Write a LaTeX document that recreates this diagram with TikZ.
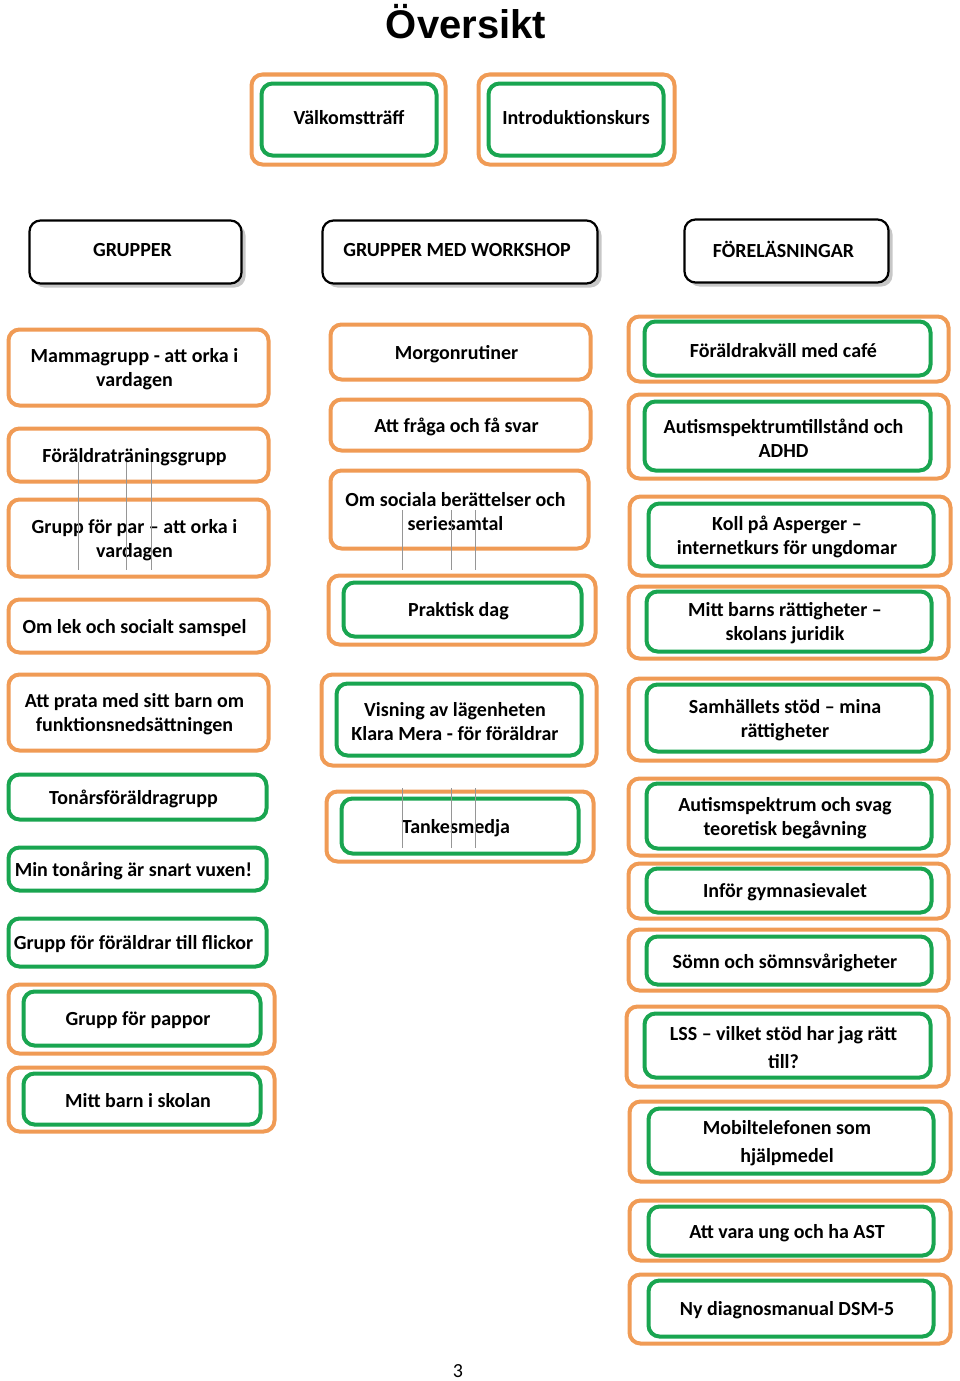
\documentclass[tikz,border=0pt]{standalone}
\usepackage{fontspec}
\setmainfont{Carlito}
\newfontfamily\titlefont{Liberation Sans}
\usetikzlibrary{shadows}
\definecolor{boxorange}{RGB}{240,155,85}
\definecolor{boxgreen}{RGB}{25,165,80}
\definecolor{gridgray}{RGB}{150,150,150}
\tikzset{
  base/.style={rounded corners=11pt, inner sep=0pt},
  obox/.style={base, draw=boxorange, line width=4pt},
  gbox/.style={base, draw=boxgreen, line width=4pt},
  hbox/.style={base, draw=black, line width=2.2pt, fill=white, drop shadow={shadow xshift=4pt, shadow yshift=-4pt, opacity=0.22, fill=black}},
  lbl/.style={align=center, inner sep=0pt, font=\fontsize{20}{24}\selectfont\bfseries, text=black},
  gline/.style={draw=gridgray, line width=0.8pt},
}
\def\tdx{0}
\def\tdy{-2}
\newcommand\bx[7]{%
  \node[#1, minimum width={(#5-#3-3)*1pt}, minimum height={(#6-#4-3)*1pt}] (#2) at ({(#3+#5)/2},{(#4+#6)/2}) {};
  \node[lbl] (#2-t) at ({(#3+#5)/2+\tdx},{(#4+#6)/2+\tdy}) {#7};}
\newcommand\bb[6]{%
  \node[#1, minimum width={(#5-#3-3)*1pt}, minimum height={(#6-#4-3)*1pt}] (#2) at ({(#3+#5)/2},{(#4+#6)/2}) {};}
\begin{document}
\begin{tikzpicture}[x=1pt,y=-1pt]
\useasboundingbox[fill=white] (0,0) rectangle (960,1381);
\node[font=\titlefont\bfseries\fontsize{40}{44}\selectfont] (title) at (466,22) {Översikt};
% top
\bb{obox}{valk-o}{250}{73}{447}{166}
\bx{gbox}{valk}{260}{82}{438}{157}{Välkomstträff}
\bb{obox}{intro-o}{477}{73}{676}{166}
\bx{gbox}{intro}{487}{82}{665}{157}{Introduktionskurs}
\def\tdx{-3}
% headers
\bx{hbox}{h1}{28}{219}{243}{285}{GRUPPER}
\bx{hbox}{h2}{321}{219}{599}{285}{GRUPPER MED WORKSHOP}
\bx{hbox}{h3}{683}{218}{890}{284}{FÖRELÄSNINGAR}
\def\tdx{-4}
\def\tdy{2}
% left column
\bx{obox}{l1}{7}{328}{270}{407}{Mammagrupp - att orka i\\vardagen}
\bx{obox}{l2}{7}{427}{270}{483}{Föräldraträningsgrupp}
\bx{obox}{l3}{7}{498}{270}{578}{Grupp för par – att orka i\\vardagen}
\bx{obox}{l4}{7}{598}{270}{654}{Om lek och socialt samspel}
\bx{obox}{l5}{7}{673}{270}{752}{Att prata med sitt barn om\\funktionsnedsättningen}
\bx{gbox}{l6}{7}{773}{268}{821}{Tonårsföräldragrupp}
\bx{gbox}{l7}{7}{846}{268}{892}{Min tonåring är snart vuxen!}
\bx{gbox}{l8}{7}{917}{268}{968}{Grupp för föräldrar till flickor}
\bb{obox}{l9-o}{7}{983}{276}{1055}
\bx{gbox}{l9}{22}{990}{262}{1047}{Grupp för pappor}
\bb{obox}{l10-o}{7}{1066}{276}{1133}
\bx{gbox}{l10}{22}{1072}{262}{1126}{Mitt barn i skolan}
% middle column
\bx{obox}{m1}{329}{323}{592}{381}{Morgonrutiner}
\bx{obox}{m2}{329}{398}{592}{452}{Att fråga och få svar}
\bx{obox}{m3}{329}{469}{590}{550}{Om sociala berättelser och\\seriesamtal}
\bb{obox}{m4-o}{327}{574}{597}{646}
\bx{gbox}{m4}{342}{581}{583}{638}{Praktisk dag}
\bb{obox}{m5-o}{320}{673}{598}{767}
\bx{gbox}{m5}{335}{682}{583}{757}{Visning av lägenheten\\Klara Mera - för föräldrar}
\bb{obox}{m6-o}{325}{790}{595}{863}
\bx{gbox}{m6}{340}{797}{580}{855}{Tankesmedja}
% right column
\bb{obox}{r1-o}{627}{315}{950}{383}
\bx{gbox}{r1}{643}{320}{932}{377}{Föräldrakväll med café}
\bb{obox}{r2-o}{627}{393}{950}{480}
\bx{gbox}{r2}{643}{400}{932}{472}{Autismspektrumtillstånd och\\ADHD}
\bb{obox}{r3-o}{628}{495}{952}{577}
\bx{gbox}{r3}{647}{502}{935}{568}{Koll på Asperger –\\internetkurs för ungdomar}
\bb{obox}{r4-o}{627}{585}{950}{660}
\bx{gbox}{r4}{645}{590}{933}{653}{Mitt barns rättigheter –\\skolans juridik}
\bb{obox}{r5-o}{627}{677}{950}{762}
\bx{gbox}{r5}{645}{683}{933}{753}{Samhällets stöd – mina\\rättigheter}
\bb{obox}{r6-o}{627}{777}{950}{857}
\bx{gbox}{r6}{645}{782}{933}{850}{Autismspektrum och svag\\teoretisk begåvning}
\bb{obox}{r7-o}{627}{862}{950}{920}
\bx{gbox}{r7}{645}{867}{933}{914}{Inför gymnasievalet}
\bb{obox}{r8-o}{627}{928}{950}{992}
\bx{gbox}{r8}{645}{935}{933}{986}{Sömn och sömnsvårigheter}
\bb{obox}{r9-o}{625}{1005}{950}{1088}
\bx{gbox}{r9}{643}{1012}{932}{1079}{LSS – vilket stöd har jag rätt\\[4pt]till?}
\bb{obox}{r10-o}{628}{1100}{952}{1183}
\bx{gbox}{r10}{647}{1107}{935}{1175}{Mobiltelefonen som\\[4pt]hjälpmedel}
\bb{obox}{r11-o}{628}{1199}{952}{1262}
\bx{gbox}{r11}{647}{1205}{935}{1257}{Att vara ung och ha AST}
\bb{obox}{r12-o}{628}{1273}{952}{1345}
\bx{gbox}{r12}{647}{1279}{935}{1338}{Ny diagnosmanual DSM-5}
% thin gray lines
\foreach \gx in {78,126,151} {\draw[gline] (\gx,462) -- (\gx,570);}
\foreach \gx in {402,451,475} {\draw[gline] (\gx,510) -- (\gx,570);}
\foreach \gx in {402,451,475} {\draw[gline] (\gx,788) -- (\gx,848);}
% page number
\node[font=\fontsize{20}{24}\selectfont] (page) at (458,1371) {3};
\end{tikzpicture}
\end{document}
